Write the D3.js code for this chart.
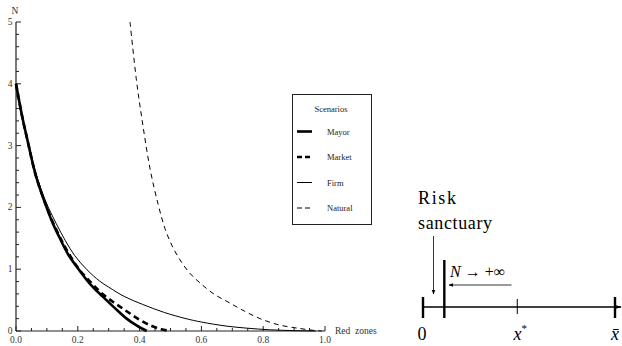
<!DOCTYPE html>
<html><head><meta charset="utf-8">
<script src="https://cdn.jsdelivr.net/npm/d3@7"></script>
<style>body{margin:0;background:#fff}svg{display:block}text{font-family:"Liberation Serif","Times New Roman","DejaVu Serif",serif}</style>
</head><body>
<svg id="c" width="622" height="346"></svg>
<script>
// ---- data ----
const mayorX  = [0, 0.02, 0.037, 0.065, 0.096, 0.12, 0.145, 0.17, 0.204, 0.24, 0.28, 0.32, 0.358, 0.39, 0.423];
const mayorN  = [4, 3.47, 3.09, 2.5, 2.04, 1.73, 1.47, 1.23, 0.99, 0.76, 0.56, 0.37, 0.2, 0.09, 0];
const marketX = [0, 0.02, 0.037, 0.065, 0.096, 0.12, 0.145, 0.17, 0.207, 0.24, 0.28, 0.32, 0.358, 0.40, 0.44, 0.47, 0.498];
const marketN = [4, 3.47, 3.09, 2.5, 2.05, 1.75, 1.49, 1.26, 0.98, 0.8, 0.6, 0.45, 0.32, 0.18, 0.08, 0.03, 0];
const firmX   = [0, 0.02, 0.037, 0.065, 0.096, 0.13, 0.16, 0.19, 0.23, 0.27, 0.30, 0.35, 0.41, 0.48, 0.55, 0.60, 0.68, 0.75, 0.82, 0.90, 0.97];
const firmN   = [4, 3.48, 3.1, 2.54, 2.1, 1.74, 1.46, 1.22, 0.99, 0.81, 0.71, 0.56, 0.43, 0.3, 0.2, 0.145, 0.08, 0.045, 0.02, 0.006, 0];
const naturalX = [0.369, 0.39, 0.407, 0.434, 0.46, 0.482, 0.505, 0.531, 0.56, 0.595, 0.64, 0.693, 0.74, 0.79, 0.85, 0.919, 0.96, 0.99];
const naturalN = [5, 4.05, 3.45, 2.62, 2.05, 1.66, 1.38, 1.15, 0.95, 0.78, 0.6, 0.45, 0.32, 0.2, 0.1, 0.04, 0.012, 0];
const scenarioNames = ["Mayor", "Market", "Firm", "Natural"];
const xTickLabels = ["0.0", "0.2", "0.4", "0.6", "0.8", "1.0"];
const yTickLabels = ["0", "1", "2", "3", "4", "5"];
const legendTitle = "Scenarios";
const xAxisTitle = "Red  zones";
const yAxisTitle = "N";
// schematic (right panel): relative positions along the segment [0, x̄]
const schemLabels = ["0", "x", "x\u0304"];
const schemPos = [0, 0.491, 1];
const sanctuaryPos = 0.111;

const svg = d3.select("#c");

const x = d3.scaleLinear().domain([0, 1]).range([16, 325]);
const y = d3.scaleLinear().domain([0, 5]).range([331, 22]);

const series = [
  {name: "Mayor",   xs: mayorX,   ns: mayorN,   w: 2.6, dash: null},
  {name: "Market",  xs: marketX,  ns: marketN,  w: 2.6, dash: "6,4"},
  {name: "Firm",    xs: firmX,    ns: firmN,    w: 1,   dash: null},
  {name: "Natural", xs: naturalX, ns: naturalN, w: 1,   dash: "5,4"}
];

// axes
const axisColor = "#222";
const g = svg.append("g");
const xMinor = d3.range(0, 1.0001, 0.05);
g.selectAll(".xm").data(xMinor).enter().append("line")
  .attr("x1", d => x(d)).attr("x2", d => x(d))
  .attr("y1", y(0)).attr("y2", d => y(0) - (Math.abs(d * 5 - Math.round(d * 5)) < 1e-6 ? 5 : 3))
  .attr("stroke", axisColor).attr("stroke-width", 1);
const yMinor = d3.range(0, 5.0001, 0.2);
g.selectAll(".ym").data(yMinor).enter().append("line")
  .attr("y1", d => y(d)).attr("y2", d => y(d))
  .attr("x1", x(0)).attr("x2", d => x(0) + (Math.abs(d - Math.round(d)) < 1e-6 ? 5 : 3))
  .attr("stroke", axisColor).attr("stroke-width", 1);
g.append("line").attr("x1", x(0)).attr("x2", x(1)).attr("y1", y(0)).attr("y2", y(0))
  .attr("stroke", axisColor).attr("stroke-width", 1.2);
g.append("line").attr("x1", x(0)).attr("x2", x(0)).attr("y1", y(0)).attr("y2", y(5))
  .attr("stroke", axisColor).attr("stroke-width", 1.2);

g.selectAll(".xl").data(xTickLabels).enter().append("text")
  .attr("x", d => x(+d)).attr("y", y(0) + 12)
  .attr("text-anchor", "middle").attr("font-size", 9.5).attr("fill", "#333")
  .text(d => d);
g.selectAll(".yl").data(yTickLabels).enter().append("text")
  .attr("x", x(0) - 6).attr("y", d => y(+d) + 3)
  .attr("text-anchor", "middle").attr("font-size", 9.5).attr("fill", "#333")
  .text(d => d);
g.append("text").attr("x", x(0) - 1).attr("y", y(5) - 8).attr("text-anchor", "middle")
  .attr("font-size", 9.5).attr("fill", "#333").text(yAxisTitle);
g.append("text").attr("x", x(1) + 10).attr("y", y(0) + 3).attr("xml:space", "preserve")
  .attr("font-size", 9.5).attr("fill", "#333").text(xAxisTitle);

// curves
const line = d3.line().x(d => x(d[0])).y(d => y(d[1])).curve(d3.curveCatmullRom.alpha(0.5));
series.forEach(s => {
  const pts = s.xs.map((v, i) => [v, s.ns[i]]);
  svg.append("path").datum(pts).attr("d", line)
    .attr("fill", "none").attr("stroke", "#000").attr("stroke-width", s.w)
    .attr("stroke-dasharray", s.dash);
});

// legend
const lg = svg.append("g");
lg.append("rect").attr("x", 292.5).attr("y", 94.5).attr("width", 79).attr("height", 130)
  .attr("fill", "#fff").attr("stroke", "#222").attr("stroke-width", 1);
lg.append("text").attr("x", 331).attr("y", 112).attr("text-anchor", "middle")
  .attr("font-size", 8.5).attr("fill", "#222").text(legendTitle);
const ly = d3.scalePoint().domain(scenarioNames).range([131.5, 208]);
series.forEach(s => {
  lg.append("line").attr("x1", 297).attr("x2", 312).attr("y1", ly(s.name)).attr("y2", ly(s.name))
    .attr("stroke", "#000").attr("stroke-width", s.w).attr("stroke-dasharray", s.dash ? "5,3" : null);
  lg.append("text").attr("x", 327).attr("y", ly(s.name) + 3)
    .attr("font-size", 8.5).attr("fill", "#222").text(s.name);
});

// schematic panel
const sx = d3.scaleLinear().domain([0, 1]).range([423, 615]);
const sy = 307;
const sc = svg.append("g");
const defs = svg.append("defs");
defs.append("marker").attr("id", "ah").attr("viewBox", "0 0 10 10").attr("refX", 9).attr("refY", 5)
  .attr("markerWidth", 6).attr("markerHeight", 6).attr("orient", "auto")
  .append("path").attr("d", "M0,1 L10,5 L0,9 Z").attr("fill", "#000");
defs.append("marker").attr("id", "ah2").attr("viewBox", "0 0 10 10").attr("refX", 9).attr("refY", 5)
  .attr("markerWidth", 5).attr("markerHeight", 5).attr("orient", "auto")
  .append("path").attr("d", "M0,2 L10,5 L0,8 Z").attr("fill", "#000");
sc.append("line").attr("x1", sx(0)).attr("x2", sx(1) + 6).attr("y1", sy).attr("y2", sy)
  .attr("stroke", "#000").attr("stroke-width", 1.6).attr("marker-end", "url(#ah2)");
schemPos.forEach((p, i) => {
  const thick = i !== 1;
  sc.append("line").attr("x1", sx(p)).attr("x2", sx(p))
    .attr("y1", thick ? sy - 10 : sy - 8).attr("y2", thick ? sy + 11 : sy + 7)
    .attr("stroke", "#000").attr("stroke-width", thick ? 2.4 : 1);
});
sc.append("line").attr("x1", sx(sanctuaryPos)).attr("x2", sx(sanctuaryPos)).attr("y1", 260).attr("y2", sy + 11)
  .attr("stroke", "#000").attr("stroke-width", 2.4);
sc.append("text").attr("x", sx(0) - 1).attr("y", 340).attr("text-anchor", "middle")
  .attr("font-size", 18).text(schemLabels[0]);
const t1 = sc.append("text").attr("x", sx(schemPos[1]) + 3).attr("y", 340).attr("text-anchor", "middle")
  .attr("font-size", 18);
t1.append("tspan").attr("font-style", "italic").text(schemLabels[1]);
t1.append("tspan").attr("dy", -8).attr("font-size", 11).text("*");
sc.append("text").attr("x", sx(1)).attr("y", 340).attr("text-anchor", "middle")
  .attr("font-size", 18).attr("font-style", "italic").text(schemLabels[2]);
sc.append("text").attr("x", 418).attr("y", 204).attr("font-size", 18).attr("textLength", 38).text("Risk");
sc.append("text").attr("x", 418).attr("y", 229).attr("font-size", 18).attr("textLength", 74).text("sanctuary");
sc.append("line").attr("x1", 433.5).attr("x2", 433.5).attr("y1", 236).attr("y2", 294)
  .attr("stroke", "#000").attr("stroke-width", 0.8).attr("marker-end", "url(#ah)");
const nt = sc.append("text").attr("x", 450).attr("y", 277).attr("font-size", 16);
nt.append("tspan").attr("font-style", "italic").text("N");
nt.append("tspan").text(" \u2192 +\u221E");
sc.append("line").attr("x1", 511.5).attr("x2", 449).attr("y1", 285).attr("y2", 285)
  .attr("stroke", "#000").attr("stroke-width", 0.8).attr("marker-end", "url(#ah)");
</script>
</body></html>
